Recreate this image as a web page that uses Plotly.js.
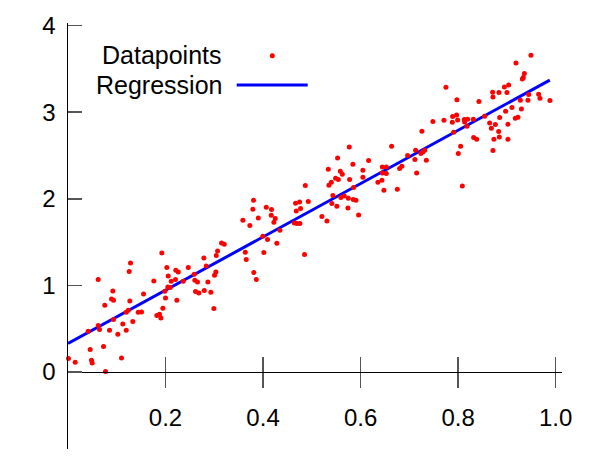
<!DOCTYPE html>
<html>
<head>
<meta charset="utf-8">
<script src="https://cdn.plot.ly/plotly-3.0.1.min.js"></script>
<style>html,body{margin:0;padding:0;background:#fff;}#chart{width:595px;height:475px;}</style>
</head>
<body>
<div id="chart"></div>
<script>
// Data points
const pointsX = [0.001,0.0148,0.0455,0.0482,0.0496,0.0769,0.0728,0.0619,0.0414,0.0619,0.0646,0.0851,0.0755,0.0919,0.0892,0.0933,0.0933,0.1022,0.1097,0.1124,0.1194,0.1194,0.1235,0.1268,0.1329,0.1255,0.1282,0.144,0.1508,0.1549,0.176,0.1822,0.1877,0.1904,0.1945,0.1924,0.2,0.1986,0.2027,0.2055,0.2047,0.2096,0.2117,0.2205,0.2211,0.2261,0.2232,0.2363,0.2466,0.2589,0.2601,0.2656,0.2615,0.2683,0.2786,0.2835,0.2868,0.2794,0.2929,0.2991,0.3005,0.3032,0.304,0.3067,0.3149,0.3204,
0.3635,0.3655,0.3811,0.3861,0.3586,0.3729,0.3805,0.3791,0.3902,0.3996,0.4092,0.4016,0.4066,0.4174,0.4168,0.425,0.4222,0.4345,0.4283,0.4667,0.4749,0.4681,0.4769,0.464,0.4694,0.4755,0.4866,0.4927,0.4851,0.5206,0.5309,0.5338,0.535,0.5399,0.5528,0.5584,0.5625,0.5487,0.5543,0.5432,0.5411,0.5514,0.5596,0.5666,0.5748,0.574,0.5774,0.5768,0.5842,0.5856,0.585,0.5904,0.5959,0.6047,0.6047,0.6164,
0.6355,0.6437,0.6445,0.6527,0.6445,0.6527,0.6478,0.6753,0.6636,0.68,0.6847,0.6964,0.7114,0.7149,0.7128,0.7237,0.7278,0.7313,0.7348,0.7257,0.7483,0.7709,0.775,0.7975,0.7887,0.7969,0.7881,0.799,0.7908,0.8004,0.8051,0.8086,0.8127,0.8133,0.8195,0.8181,0.8312,0.8318,0.838,0.8427,0.8544,0.8646,0.8681,0.8763,0.8734,0.8714,0.8831,0.8845,0.8851,0.8708,0.8714,0.8837,0.8948,0.9036,0.9001,0.8974,0.9022,0.9022,0.9104,0.9173,0.9227,0.9297,0.9276,0.9317,0.9337,0.9358,0.9186,0.9493,0.9432,0.9446,0.9651,0.9678,0.9883];
const pointsY = [0.155,0.112,0.259,0.135,0.104,0.005,0.293,1.067,0.470,0.536,0.490,0.482,0.770,0.935,0.843,0.828,0.605,0.435,0.162,0.554,0.482,0.689,0.712,0.820,0.582,1.159,1.259,0.689,0.693,0.901,1.051,0.651,0.666,0.624,0.736,1.374,0.855,0.932,1.206,1.109,0.982,0.975,1.047,1.067,1.174,1.155,0.828,1.047,1.206,1.128,1.059,1.039,0.928,0.912,1.316,1.224,1.039,0.940,0.920,0.732,1.117,1.155,1.344,1.397,1.490,1.475,
1.382,1.298,1.148,1.067,1.752,1.691,1.983,1.879,1.778,1.567,1.529,1.379,1.902,1.875,1.809,1.771,1.729,1.636,1.486,1.948,1.963,1.859,1.887,1.721,1.714,1.714,2.152,1.968,1.356,1.794,1.744,2.341,2.156,2.191,2.471,2.318,2.283,2.237,2.222,2.037,1.945,1.913,2.014,2.032,2.006,1.894,2.222,2.598,2.398,2.129,1.991,1.983,1.813,2.329,2.248,2.441,
2.191,2.214,2.367,2.367,2.298,2.291,2.098,2.110,2.606,2.349,2.375,2.499,2.453,2.298,2.560,2.522,2.540,2.560,2.445,2.779,2.891,2.906,3.288,3.145,2.949,2.968,2.883,2.910,2.768,2.522,2.606,2.148,2.915,2.887,2.918,2.837,2.918,2.707,2.687,3.122,2.953,2.875,2.814,2.857,2.687,2.557,2.776,2.714,2.938,3.230,3.176,3.226,3.291,3.314,3.226,3.010,2.860,2.687,3.053,2.930,2.941,3.037,3.137,3.383,3.400,3.446,3.568,3.657,3.137,3.203,3.207,3.160,3.134];

// Regression line end points
const regX = [0, 0.988];
const regY = [0.328, 3.37];

// Axes
const xRange = [0, 1.013];
const yRange = [-0.89, 4.03];
const xTickVals = [0.2, 0.4, 0.6, 0.8, 1.0];
const xTickText = ['0.2', '0.4', '0.6', '0.8', '1.0'];
const yTickVals = [0, 1, 2, 3, 4];
const yTickText = ['0', '1', '2', '3', '4'];
const legendLabels = ['Datapoints', 'Regression'];

const FONT = 'Liberation Sans, Arial, sans-serif';
const zeroPos = (0 - yRange[0]) / (yRange[1] - yRange[0]);

const traces = [
  {x: regX, y: regY, mode: 'lines', line: {color: '#0000ff', width: 3}, hoverinfo: 'skip', showlegend: false},
  {x: pointsX, y: pointsY, mode: 'markers', marker: {color: '#ff0000', size: 5}, cliponaxis: false, showlegend: false},
  {x: [], y: [], xaxis: 'x2', yaxis: 'y', showlegend: false}
];

const M = {l: 68, r: 33, t: 23, b: 26};
const plotW = 595 - M.l - M.r, plotH = 475 - M.t - M.b;
const px = v => (v - M.l) / plotW;       // pixel -> paper x
const py = v => 1 - (v - M.t) / plotH;   // pixel -> paper y

const layout = {
  width: 595, height: 475,
  margin: M,
  paper_bgcolor: '#fff', plot_bgcolor: '#fff',
  showlegend: false,
  font: {family: FONT, size: 24, color: '#000'},
  xaxis: {
    range: xRange, anchor: 'free', position: zeroPos,
    showgrid: false, zeroline: false,
    showline: true, linecolor: '#000', linewidth: 1.5,
    ticks: 'outside', ticklen: 15, tickwidth: 1.5, tickcolor: '#555',
    tickvals: xTickVals, ticktext: xTickText, ticklabelstandoff: 9,
    tickfont: {family: FONT, size: 24, color: '#000'}
  },
  xaxis2: {
    range: xRange, overlaying: 'x', anchor: 'free', position: zeroPos,
    showgrid: false, zeroline: false, showline: false,
    ticks: 'inside', ticklen: 15, tickwidth: 1.5, tickcolor: '#555',
    tickvals: xTickVals, showticklabels: false
  },
  yaxis: {
    range: yRange,
    showgrid: false, zeroline: false,
    showline: true, linecolor: '#000', linewidth: 1.5,
    ticks: 'inside', ticklen: 14, tickwidth: 1.5, tickcolor: '#555',
    tickvals: yTickVals, ticktext: yTickText, ticklabelstandoff: 6,
    tickfont: {family: FONT, size: 24, color: '#000'}
  },
  annotations: [
    {text: legendLabels[0], xref: 'paper', yref: 'paper', x: px(224), y: py(55), xanchor: 'right', yanchor: 'middle', showarrow: false, font: {family: FONT, size: 25, color: '#000'}},
    {text: legendLabels[1], xref: 'paper', yref: 'paper', x: px(224), y: py(85), xanchor: 'right', yanchor: 'middle', showarrow: false, font: {family: FONT, size: 25, color: '#000'}}
  ],
  shapes: [
    {type: 'circle', xref: 'paper', yref: 'paper', xsizemode: 'pixel', ysizemode: 'pixel',
     xanchor: px(272.3), yanchor: py(55.7), x0: -2.5, x1: 2.5, y0: -2.5, y1: 2.5,
     fillcolor: '#ff0000', line: {width: 0}},
    {type: 'line', xref: 'paper', yref: 'paper', x0: px(236.7), x1: px(307.7), y0: py(85), y1: py(85),
     line: {color: '#0000ff', width: 3}}
  ]
};

Plotly.newPlot('chart', traces, layout, {staticPlot: true, displayModeBar: false});
</script>
</body>
</html>
